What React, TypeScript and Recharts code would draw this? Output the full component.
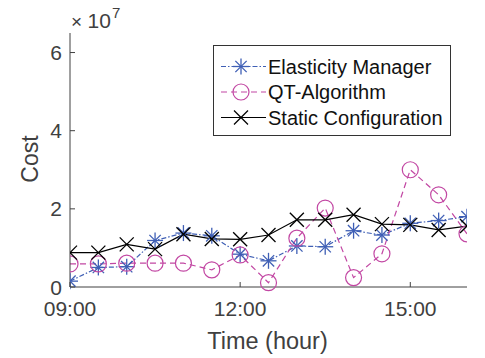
import { LineChart, Line, XAxis, YAxis, Label } from "recharts"

const times = [9, 9.5, 10, 10.5, 11, 11.5, 12, 12.5, 13, 13.5, 14, 14.5, 15, 15.5, 16]
const elasticity = [0.15, 0.5, 0.52, 1.19, 1.38, 1.31, 0.84, 0.67, 1.05, 1.03, 1.44, 1.33, 1.63, 1.7, 1.8]
const qtAlgorithm = [0.59, 0.59, 0.61, 0.61, 0.61, 0.44, 0.82, 0.11, 1.25, 2.02, 0.24, 0.85, 3.0, 2.36, 1.36]
const staticConfig = [0.88, 0.88, 1.09, 0.97, 1.35, 1.23, 1.22, 1.33, 1.72, 1.72, 1.85, 1.61, 1.59, 1.46, 1.56]
const xTicks = [9, 12, 15]
const yTicks = [0, 2, 4, 6]

const data = times.map((t, i) => ({
  t,
  em: elasticity[i],
  qt: qtAlgorithm[i],
  sc: staticConfig[i],
}))

const BLUE = "#3f5fb5"
const MAGENTA = "#c247a3"
const AXIS = "#404040"
const FONT = "'Liberation Sans', Arial, sans-serif"

const fmtTime = (v: number) => `${String(Math.floor(v)).padStart(2, "0")}:00`

function Star({ cx, cy, color }: any) {
  const r = 8
  const d = r * 0.707
  return (
    <g stroke={color} strokeWidth={1.3}>
      <line x1={cx - r} y1={cy} x2={cx + r} y2={cy} />
      <line x1={cx} y1={cy - r} x2={cx} y2={cy + r} />
      <line x1={cx - d} y1={cy - d} x2={cx + d} y2={cy + d} />
      <line x1={cx - d} y1={cy + d} x2={cx + d} y2={cy - d} />
    </g>
  )
}

function Circ({ cx, cy, color }: any) {
  return <circle cx={cx} cy={cy} r={8} fill="none" stroke={color} strokeWidth={1.2} />
}

function Cross({ cx, cy, color }: any) {
  const r = 7
  return (
    <g stroke={color} strokeWidth={1.3}>
      <line x1={cx - r} y1={cy - r} x2={cx + r} y2={cy + r} />
      <line x1={cx - r} y1={cy + r} x2={cx + r} y2={cy - r} />
    </g>
  )
}

function YTick({ x, y, payload }: any) {
  return (
    <g>
      <line x1={x + 8} y1={y} x2={x + 13} y2={y} stroke={AXIS} />
      <text x={x} y={y + 7.5} textAnchor="end" fill={AXIS} fontSize={21} fontFamily={FONT}>
        {payload.value}
      </text>
    </g>
  )
}

function XTick({ x, y, payload }: any) {
  return (
    <g>
      <line x1={x} y1={y - 10} x2={x} y2={y - 15} stroke={AXIS} />
      <text x={x} y={y + 19} textAnchor="middle" fill={AXIS} fontSize={21} fontFamily={FONT}>
        {fmtTime(payload.value)}
      </text>
    </g>
  )
}

const legendRows = [
  { label: "Elasticity Manager", color: BLUE, dash: "5 2 1.5 2", Mark: Star },
  { label: "QT-Algorithm", color: MAGENTA, dash: "6 4", Mark: Circ },
  { label: "Static Configuration", color: "#000", dash: undefined, Mark: Cross },
]

function LegendBox() {
  return (
    <svg width={238} height={91} style={{ display: "block" }}>
      <rect x={0.5} y={0.5} width={237} height={90} fill="#fff" stroke="#333" />
      {legendRows.map((r, i) => {
        const y = 21.5 + i * 25.5
        return (
          <g key={r.label}>
            <line x1={8} y1={y} x2={53} y2={y} stroke={r.color} strokeWidth={1.2} strokeDasharray={r.dash} />
            <r.Mark cx={28} cy={y} color={r.color} />
            <text x={55} y={y + 7} fontSize={20} fontFamily={FONT} fill="#111">
              {r.label}
            </text>
          </g>
        )
      })}
    </svg>
  )
}

export default function App() {
  return (
    <div style={{ position: "absolute", left: 0, top: 0, width: 485, height: 358, background: "#fff" }}>
      <LineChart width={485} height={358} data={data} margin={{ top: 33, right: 18, left: 0, bottom: 0 }}>
        <XAxis
          dataKey="t"
          type="number"
          domain={[9, 16]}
          ticks={xTicks}
          tick={<XTick />}
          tickSize={0}
          tickMargin={10}
          height={71}
          stroke={AXIS}
          allowDataOverflow
        >
          <Label
            content={() => (
              <text x={267.5} y={349} textAnchor="middle" fill={AXIS} fontSize={23.5} fontFamily={FONT}>
                Time (hour)
              </text>
            )}
          />
        </XAxis>
        <YAxis
          type="number"
          domain={[0, 6.5]}
          ticks={yTicks}
          tick={<YTick />}
          tickSize={0}
          tickMargin={8}
          width={70}
          stroke={AXIS}
        >
          <Label
            content={() => (
              <text
                x={38}
                y={159}
                transform="rotate(-90 38 159)"
                textAnchor="middle"
                fill={AXIS}
                fontSize={23}
                fontFamily={FONT}
              >
                Cost
              </text>
            )}
          />
        </YAxis>
        <Line
          dataKey="em"
          stroke={BLUE}
          strokeWidth={1.2}
          strokeDasharray="5 2 1.5 2"
          dot={(p: any) => <Star key={p.index} cx={p.cx} cy={p.cy} color={BLUE} />}
          isAnimationActive={false}
        />
        <Line
          dataKey="qt"
          stroke={MAGENTA}
          strokeWidth={1.2}
          strokeDasharray="6 4"
          dot={(p: any) => <Circ key={p.index} cx={p.cx} cy={p.cy} color={MAGENTA} />}
          isAnimationActive={false}
        />
        <Line
          dataKey="sc"
          stroke="#000"
          strokeWidth={1.2}
          dot={(p: any) => <Cross key={p.index} cx={p.cx} cy={p.cy} color="#000" />}
          isAnimationActive={false}
        />
      </LineChart>
      <div style={{ position: "absolute", left: 213, top: 45 }}>
        <LegendBox />
      </div>
      <svg width={80} height={34} style={{ position: "absolute", left: 60, top: 0 }}>
        <text x={11} y={27.5} fill={AXIS} fontSize={19} fontFamily={FONT}>×</text>
        <text x={27.5} y={27.5} fill={AXIS} fontSize={21} fontFamily={FONT}>10</text>
        <text x={52} y={18} fill={AXIS} fontSize={15} fontFamily={FONT}>7</text>
      </svg>
    </div>
  )
}
